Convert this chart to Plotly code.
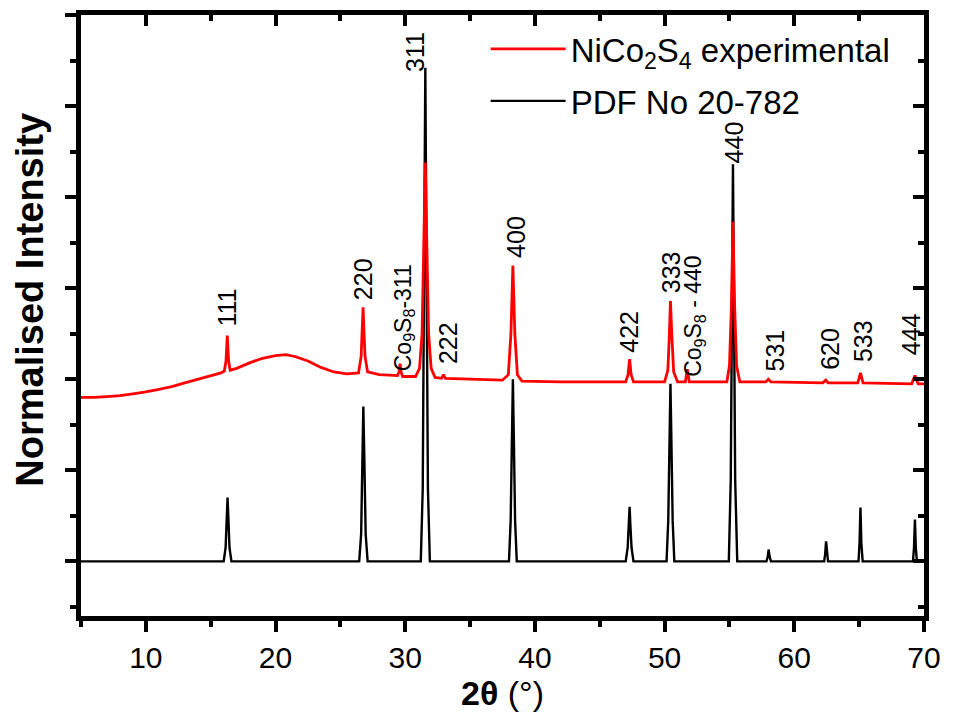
import plotly.graph_objects as go

# ---------------- data ----------------
# experimental NiCo2S4 pattern (2theta, normalised intensity)
red_x = [5.0, 6.0, 7.0, 8.0, 9.0, 10.0, 11.0, 12.0, 13.0, 14.0, 15.0, 15.8,
         16.05, 16.18, 16.28, 16.38, 16.5, 17.0, 18.0, 19.0, 20.0, 20.8, 21.5,
         22.5, 23.5, 24.5, 25.5, 26.4, 26.6, 26.75, 26.9, 27.1, 28.0, 29.4,
         29.52, 29.6, 29.68, 29.8, 30.8, 31.1, 31.3, 31.45, 31.55, 31.65, 31.8,
         32.0, 32.3, 32.8, 32.95, 33.1, 35.0, 37.5, 37.95, 38.15, 38.3, 38.45,
         38.65, 39.0, 42.0, 47.0, 47.18, 47.3, 47.42, 47.6, 50.0, 50.25, 50.37,
         50.45, 50.55, 50.7, 51.0, 51.6, 51.75, 51.9, 54.8, 55.0, 55.15, 55.27,
         55.4, 55.55, 55.8, 57.8, 58.0, 58.2, 62.2, 62.43, 62.6, 64.9, 65.1,
         65.3, 69.05, 69.3, 69.55, 70.0]
red_y = [1.80, 1.80, 1.81, 1.82, 1.84, 1.86, 1.89, 1.92, 1.96, 2.00, 2.04, 2.07,
         2.09, 2.20, 2.48, 2.20, 2.10, 2.12, 2.18, 2.23, 2.26, 2.27, 2.25,
         2.20, 2.13, 2.08, 2.06, 2.07, 2.25, 2.79, 2.25, 2.08, 2.05, 2.04,
         2.08, 2.17, 2.08, 2.03, 2.03, 2.12, 2.50, 3.60, 4.38, 3.60, 2.50,
         2.12, 2.02, 2.01, 2.05, 2.01, 2.00, 1.99, 2.05, 2.50, 3.25, 2.50,
         2.05, 1.98, 1.97, 1.97, 2.05, 2.22, 2.05, 1.97, 1.97, 2.10, 2.50,
         2.86, 2.50, 2.08, 1.97, 1.97, 2.11, 1.97, 1.97, 2.15, 2.80, 3.73,
         2.80, 2.15, 1.97, 1.97, 2.00, 1.97, 1.96, 1.99, 1.96, 1.96, 2.07,
         1.96, 1.95, 2.04, 1.95, 1.95]

# reference pattern PDF No 20-782
black_x = [5.0, 16.0, 16.15, 16.23, 16.3, 16.37, 16.45, 16.6,
           26.45, 26.6, 26.7, 26.77, 26.85, 26.95, 27.1,
           31.2, 31.35, 31.47, 31.55, 31.63, 31.75, 31.9,
           38.0, 38.13, 38.23, 38.3, 38.37, 38.47, 38.6,
           47.0, 47.15, 47.24, 47.3, 47.36, 47.45, 47.6,
           50.15, 50.28, 50.38, 50.45, 50.52, 50.62, 50.75,
           54.95, 55.1, 55.2, 55.27, 55.34, 55.44, 55.6,
           57.85, 57.95, 58.02, 58.1, 58.2,
           62.3, 62.38, 62.45, 62.52, 62.6,
           64.95, 65.03, 65.1, 65.17, 65.27,
           69.15, 69.23, 69.3, 69.37, 69.45, 70.0]
black_y = [0, 0, 0.15, 0.45, 0.70, 0.45, 0.15, 0,
           0, 0.30, 1.10, 1.70, 1.10, 0.30, 0,
           0, 0.80, 3.50, 5.42, 3.50, 0.80, 0,
           0, 0.45, 1.40, 2.00, 1.40, 0.45, 0,
           0, 0.15, 0.40, 0.60, 0.40, 0.15, 0,
           0, 0.45, 1.35, 1.95, 1.35, 0.45, 0,
           0, 0.90, 3.00, 4.36, 3.00, 0.90, 0,
           0, 0.05, 0.13, 0.05, 0,
           0, 0.08, 0.22, 0.08, 0,
           0, 0.20, 0.59, 0.20, 0,
           0, 0.15, 0.46, 0.15, 0, 0]

series_names = ["NiCo<sub>2</sub>S<sub>4</sub> experimental", "PDF No 20-782"]

# peak labels (text, 2theta, intensity where label sits)
label_text = ["111", "220", "Co<sub>9</sub>S<sub>8</sub>-311", "311", "222", "400",
              "422", "333", "Co<sub>9</sub>S<sub>8</sub> - 440", "440", "531",
              "620", "533", "444"]
label_x = [16.28, 26.75, 29.9, 30.81, 33.32, 38.52, 47.24, 50.45, 52.3, 55.42,
           58.55, 62.8, 65.3, 68.97]
label_y = [2.79, 3.10, 2.68, 5.59, 2.40, 3.56, 2.52, 3.18, 2.69, 4.60, 2.31,
           2.33, 2.42, 2.49]
label_small = [False, False, True, False, False, False, False, False, True,
               False, False, False, False, False]

x_range = [5, 70]
y_range = [-0.6, 6.0]

FONT = "Liberation Sans, Arial, sans-serif"

fig = go.Figure()
fig.add_trace(go.Scatter(x=black_x, y=black_y, mode="lines", name=series_names[1],
                         line=dict(color="black", width=2.4), legendrank=2,
                         legendgroup="b"))
fig.add_trace(go.Scatter(x=red_x, y=red_y, mode="lines", name=series_names[0],
                         line=dict(color="#ff0000", width=2.8), legendrank=1,
                         legendgroup="r"))
# helper trace for mirrored top/right axes
fig.add_trace(go.Scatter(x=[None], y=[None], xaxis="x2", yaxis="y2",
                         showlegend=False, hoverinfo="skip"))

for t, xv, yv, sm in zip(label_text, label_x, label_y, label_small):
    fig.add_annotation(x=xv, y=yv, text=t, showarrow=False, textangle=-90,
                       xanchor="center", yanchor="middle",
                       font=dict(family=FONT, size=23 if sm else 25, color="black"))

# y-axis title as annotation (sits slightly above the plot centre)
fig.add_annotation(xref="paper", yref="paper", x=-0.06, y=0.527,
                   text="<b>Normalised Intensity</b>", showarrow=False,
                   textangle=-90, xanchor="center", yanchor="middle",
                   font=dict(family=FONT, size=38, color="black"))

axis_common = dict(showline=True, linecolor="black", linewidth=5, showgrid=False,
                   zeroline=False, tickcolor="black", tickwidth=4, ticklen=11)

fig.update_layout(
    width=953, height=716,
    margin=dict(l=81, r=21, t=15, b=98),
    paper_bgcolor="white", plot_bgcolor="white",
    font=dict(family=FONT, color="black"),
    xaxis=dict(range=x_range, dtick=10, tick0=0, ticks="outside",
               tickfont=dict(size=30, family=FONT),
               minor=dict(dtick=5, tick0=0, ticks="outside", ticklen=6,
                          tickwidth=4, tickcolor="black"),
               title=dict(text="<b>2θ</b> (°)", font=dict(size=34, family=FONT),
                          standoff=6),
               **axis_common),
    yaxis=dict(range=y_range, dtick=1, tick0=0, ticks="outside",
               showticklabels=False,
               minor=dict(dtick=0.5, tick0=0, ticks="outside", ticklen=6,
                          tickwidth=4, tickcolor="black"),
               **axis_common),
    xaxis2=dict(range=x_range, overlaying="x", side="top", anchor="y",
                dtick=10, tick0=0, ticks="inside", showticklabels=False,
                minor=dict(dtick=5, tick0=0, ticks="inside", ticklen=6,
                           tickwidth=4, tickcolor="black"),
                **axis_common),
    yaxis2=dict(range=y_range, overlaying="y", side="right", anchor="x",
                dtick=1, tick0=0, ticks="inside", showticklabels=False,
                minor=dict(dtick=0.5, tick0=0, ticks="inside", ticklen=6,
                           tickwidth=4, tickcolor="black"),
                **axis_common),
    legend=dict(x=0.48, y=0.99, xanchor="left", yanchor="top",
                font=dict(size=33, family=FONT), bgcolor="rgba(0,0,0,0)",
                itemwidth=75, traceorder="grouped", tracegroupgap=6),
    showlegend=True,
)

fig.write_html("out.html")
